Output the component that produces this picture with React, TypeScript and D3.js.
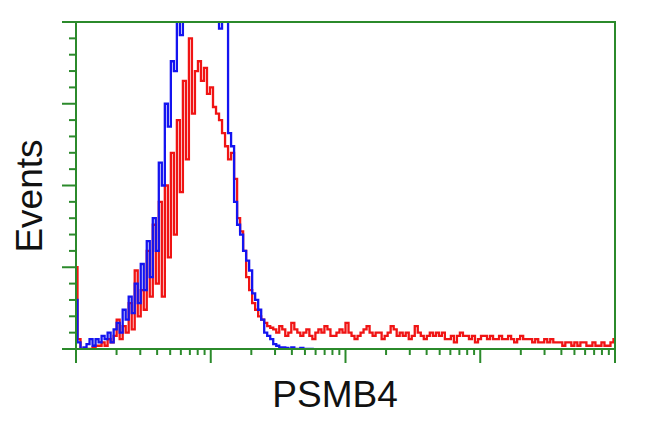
import React from "react";
import * as d3 from "d3";

const W = 650;
const H = 431;
const left = 76, right = 615, top = 22, bottom = 349;

const xDomain = [1, 10000];
const yDomain = [0, 100];
const yMajorTicks = [0, 25, 50, 75, 100];
const yMinorStep = 5;

const xLabel = "PSMB4";
const yLabel = "Events";

// channel counts per log-spaced bin (180 bins over 4 decades)
const redCounts = [
  25, 3, 0, 0, 0, 0, 0.5, 1, 1, 2,
  1, 3, 2, 4, 9, 3, 7, 5, 14, 6,
  24, 10, 18, 12, 30, 16, 38, 20, 45, 16,
  50, 28, 60, 35, 70, 48, 82, 58, 95, 72,
  85, 88, 82, 86, 78, 80, 74, 72, 70, 66,
  62, 58, 60, 52, 40, 36, 30, 22, 18, 14,
  12, 10, 9, 8, 7, 6.5, 6,
  5, 7, 6, 4, 5, 8, 6, 5, 4, 5, 6, 4, 3,
  5, 6, 5, 7, 6, 4, 4, 5, 6, 5, 8, 5, 4, 3, 4, 5, 6, 7, 5, 4,
  5, 5, 3, 4, 5, 7, 6, 4, 5, 4, 5, 3, 4, 7, 5, 4, 3, 4, 5, 4,
  5, 4, 5, 3, 3, 4, 2, 4, 5, 4, 4, 3, 4, 2, 3, 4, 4, 3, 4, 3,
  3, 4, 3, 3, 4, 3, 2, 3, 4, 3, 3, 3, 2, 3, 2, 2, 3, 2, 3, 2,
  2, 2, 1, 2, 2, 1, 2, 1, 2, 2, 1, 1, 2, 1, 1, 2, 1, 1, 2, 3,
];

const blueCounts = [
  15, 2, 0, 0.5, 1.5, 3, 1, 3, 2, 4,
  3, 5, 2, 6, 8, 5, 12, 9, 16, 11,
  20, 14, 26, 18, 33, 22, 40, 30, 57, 50,
  75, 68, 88, 85, 105, 96, 115, 110, 120, 112,
  125, 118, 130, 122, 128, 115, 120, 108, 98, 105,
  102, 66, 62, 45, 38, 35, 30, 27, 24, 17,
  15, 12, 9, 5, 4, 3, 1.5, 1, 0.5, 0.5,
  0.3, 0, 0.5, 0, 0, 0.3, 0, 0, 0, 0,
];

const NBINS = 180;
const green = "#2b8a2b";

export default function App() {
  const x = d3.scaleLog().domain(xDomain).range([left, right]);
  const y = d3.scaleLinear().domain(yDomain).range([bottom, top]);
  const binX = (i: number) => x(Math.pow(10, (4 * i) / (NBINS - 1)));

  const line = d3
    .line<number>()
    .x((_, i) => binX(i))
    .y((d) => y(d))
    .curve(d3.curveStep);

  const yMinor: number[] = d3.range(yDomain[0], yDomain[1] + 0.001, yMinorStep).filter(
    (v) => !yMajorTicks.includes(v)
  );

  const xMajor: number[] = [1, 10, 100, 1000, 10000];
  const xMinor: number[] = [];
  [1, 10, 100, 1000].forEach((d) => {
    for (let k = 2; k <= 9; k++) xMinor.push(k * d);
  });

  return (
    <svg
      width={W}
      height={H}
      style={{ position: "absolute", left: 0, top: 0, background: "#fff" }}
    >
      <defs>
        <clipPath id="plot">
          <rect x={left} y={top} width={right - left} height={bottom - top} />
        </clipPath>
      </defs>
      <rect x={0} y={0} width={W} height={H} fill="#fff" />
      <g clipPath="url(#plot)" fill="none" strokeWidth={2.3} strokeLinejoin="miter">
        <path d={line(redCounts) || ""} stroke="#f01414" />
        <path d={line(blueCounts) || ""} stroke="#1414f0" />
      </g>
      <g stroke={green} strokeWidth={2} fill="none">
        <rect x={left} y={top} width={right - left} height={bottom - top} />
        {yMajorTicks.map((v) => (
          <line key={"ym" + v} x1={left - 14} x2={left} y1={y(v)} y2={y(v)} />
        ))}
        {yMinor.map((v) => (
          <line key={"yn" + v} x1={left - 7} x2={left} y1={y(v)} y2={y(v)} />
        ))}
        {xMajor.map((v) => (
          <line key={"xm" + v} x1={x(v)} x2={x(v)} y1={bottom} y2={bottom + 14} />
        ))}
        {xMinor.map((v) => (
          <line key={"xn" + v} x1={x(v)} x2={x(v)} y1={bottom} y2={bottom + 6} />
        ))}
      </g>
      <text
        x={335}
        y={407}
        textAnchor="middle"
        fontFamily="'Liberation Sans', Arial, sans-serif"
        fontSize={37}
        fill="#111"
      >
        {xLabel}
      </text>
      <text
        transform="translate(42,196) rotate(-90)"
        textAnchor="middle"
        fontFamily="'Liberation Sans', Arial, sans-serif"
        fontSize={37}
        fill="#111"
      >
        {yLabel}
      </text>
    </svg>
  );
}
